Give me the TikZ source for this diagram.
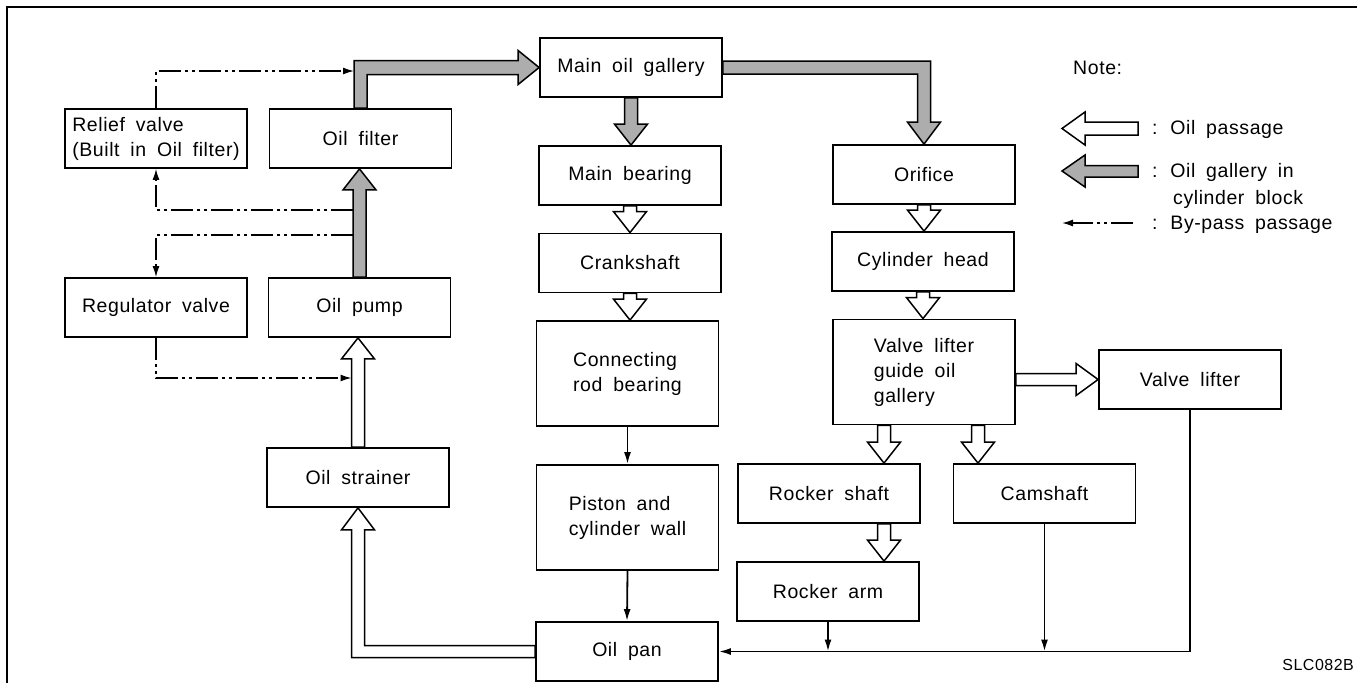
\documentclass[tikz,border=0pt]{standalone}
\usepackage{fontspec}
\setmainfont{Liberation Sans}[LetterSpace=3,WordSpace=1.8]
\usetikzlibrary{arrows.meta,calc}
\tikzset{
 blk/.style={draw, line width=1.8pt, minimum width=182pt, minimum height=59pt, inner sep=0pt, align=center, font=\fontsize{19.5}{25}\selectfont},
 tallblk/.style={blk, minimum height=105pt, align=left},
 hollowarr/.style={draw, fill=white, line width=1.5pt, line join=miter},
 shadedarr/.style={draw, fill=black!32, line width=1.5pt, line join=miter},
 bypass/.style={line width=1.4pt, dash pattern=on 22pt off 4pt on 3pt off 4pt on 3pt off 4pt, -{Latex[length=11pt,width=7pt]}},
 thinarr/.style={line width=1.8pt, -{Latex[length=12pt,width=7pt]}},
 lbl/.style={anchor=base west, inner sep=0pt, font=\fontsize{19.5}{25}\selectfont},
}
\newcommand\arrdown[3]{\path[#1] let \p1=#2, \p2=#3 in (\x1-6.5pt,\y1) -- (\x1-6.5pt,\y2+21pt) -- (\x1-16.5pt,\y2+21pt) -- (\x1,\y2) -- (\x1+16.5pt,\y2+21pt) -- (\x1+6.5pt,\y2+21pt) -- (\x1+6.5pt,\y1) -- cycle;}
\newcommand\arrup[3]{\path[#1] let \p1=#2, \p2=#3 in (\x1-6.5pt,\y1) -- (\x1-6.5pt,\y2-21pt) -- (\x1-16.5pt,\y2-21pt) -- (\x1,\y2) -- (\x1+16.5pt,\y2-21pt) -- (\x1+6.5pt,\y2-21pt) -- (\x1+6.5pt,\y1) -- cycle;}
\begin{document}
\begin{tikzpicture}[x=1pt,y=-1pt]
\useasboundingbox (0,0) rectangle (1357,683);
% frame
\draw[line width=2pt] (7,683) -- (7,7) -- (1357,7);
% boxes
\node[blk] (gallery) at (631,67.5) {Main oil gallery};
\node[blk, align=left] (relief) at (156,138.5) {Relief valve\\(Built in Oil filter)};
\node[blk] (filter) at (360.5,138.5) {Oil filter};
\node[blk] (mainb) at (630,175.5) {Main bearing};
\node[blk] (orifice) at (924,174.5) {Orifice};
\node[blk] (crank) at (630,263) {Crankshaft};
\node[blk] (cylhead) at (923,261.5) {Cylinder head};
\node[blk] (regulator) at (156,307.5) {Regulator valve};
\node[blk] (pump) at (359.5,307.5) {Oil pump};
\node[tallblk] (conrod) at (627.5,373.5) {Connecting\\rod bearing};
\node[tallblk] (vlg) at (924,372) {Valve lifter\\guide oil\\gallery};
\node[blk] (valvelifter) at (1190,379.5) {Valve lifter};
\node[blk] (strainer) at (358,477.5) {Oil strainer};
\node[tallblk] (piston) at (627.5,517.5) {Piston and\\cylinder wall};
\node[blk] (rockershaft) at (829,493.5) {Rocker shaft};
\node[blk] (camshaft) at (1044.5,493.5) {Camshaft};
\node[blk] (rockerarm) at (828,591.5) {Rocker arm};
\node[blk] (oilpan) at (627,651.5) {Oil pan};
% gallery (shaded) arrows
\path[shadedarr] let \p1=(filter.north), \p2=(gallery.west) in (\x1-6.5pt,\y1) -- (\x1-6.5pt,\y2+7pt) -- (\x2-21pt,\y2+7pt) -- (\x2-21pt,\y2+17pt) -- (\x2,\y2) -- (\x2-21pt,\y2-17pt) -- (\x2-21pt,\y2-7pt) -- (\x1+6.5pt,\y2-7pt) -- (\x1+6.5pt,\y1) -- cycle;
\path[shadedarr] let \p1=(gallery.east), \p2=(orifice.north) in (\x1,\y1+6.5pt) -- (\x2+6.5pt,\y1+6.5pt) -- (\x2+6.5pt,\y2+22pt) -- (\x2+16.5pt,\y2+22pt) -- (\x2,\y2) -- (\x2-16.5pt,\y2+22pt) -- (\x2-6.5pt,\y2+22pt) -- (\x2-6.5pt,\y1-6.5pt) -- (\x1,\y1-6.5pt) -- cycle;
\arrdown{shadedarr}{(gallery.south)}{(mainb.north)}
\arrup{shadedarr}{(pump.north)}{(filter.south)}
% oil passages (hollow)
\arrdown{hollowarr}{(mainb.south)}{(crank.north)}
\arrdown{hollowarr}{(crank.south)}{(conrod.north)}
\arrdown{hollowarr}{(orifice.south)}{(cylhead.north)}
\arrdown{hollowarr}{(cylhead.south)}{(vlg.north)}
\arrdown{hollowarr}{($(vlg.south)+(-40,0)$)}{(rockershaft.north)}
\arrdown{hollowarr}{($(vlg.south)+(54,0)$)}{(camshaft.north)}
\arrdown{hollowarr}{($(rockershaft.south)+(55,0)$)}{(rockerarm.north)}
\arrup{hollowarr}{(strainer.north)}{(pump.south)}
\path[hollowarr] let \p1=(vlg.east), \p2=(valvelifter.west) in (\x1,\y2+6pt) -- (\x2-22pt,\y2+6pt) -- (\x2-22pt,\y2+16pt) -- (\x2,\y2) -- (\x2-22pt,\y2-16pt) -- (\x2-22pt,\y2-6pt) -- (\x1,\y2-6pt) -- cycle;
\path[hollowarr] let \p1=(oilpan.west), \p2=(strainer.south) in (\x1,\y1+6pt) -- (\x2+6.5pt,\y1+6pt) -- (\x2+6.5pt,\y2-22pt) -- (\x2+16.5pt,\y2-22pt) -- (\x2,\y2) -- (\x2-16.5pt,\y2-22pt) -- (\x2-6.5pt,\y2-22pt) -- (\x2-6.5pt,\y1-6pt) -- (\x1,\y1-6pt) -- cycle;
% by-pass passages
\coordinate (bp1) at (354,71);
\coordinate (bp2) at (353,210);
\coordinate (bp3) at (353,235);
\coordinate (bp4) at (351.5,378);
\draw[bypass] (relief.north) |- (bp1);
\draw[bypass] (bp2) -| (relief.south);
\draw[bypass] (bp3) -| (regulator.north);
\draw[bypass] (regulator.south) |- (bp4);
% drain lines
\draw[thinarr] (conrod.south) -- (piston.north);
\draw[thinarr] (piston.south) -- (oilpan.north);
\draw[thinarr] (valvelifter.south) |- (oilpan.east);
\draw[thinarr] (rockerarm.south) -- (rockerarm.south |- oilpan.east);
\draw[thinarr] (camshaft.south) -- (camshaft.south |- oilpan.east);
% legend
\node[lbl] (note) at (1073,74) {Note:};
\path[hollowarr] (1062,128.5) -- (1085,112) -- (1085,122) -- (1138,122) -- (1138,135) -- (1085,135) -- (1085,145) -- cycle;
\node[lbl] (l1) at (1152,134) {: Oil passage};
\path[shadedarr] (1062,171) -- (1085,155) -- (1085,165.5) -- (1138,165.5) -- (1138,177) -- (1085,177) -- (1085,187) -- cycle;
\node[lbl] (l2) at (1152,177) {: Oil gallery in};
\node[lbl] (l2b) at (1173,204) {cylinder block};
\coordinate (lg1) at (1133,223);
\coordinate (lg2) at (1062,223);
\draw[bypass] (lg1) -- (lg2);
\node[lbl] (l3) at (1152,229) {: By-pass passage};
\node[anchor=base east, inner sep=0pt, font=\fontsize{16}{18}\selectfont] (code) at (1354,670) {SLC082B};
\end{tikzpicture}
\end{document}
